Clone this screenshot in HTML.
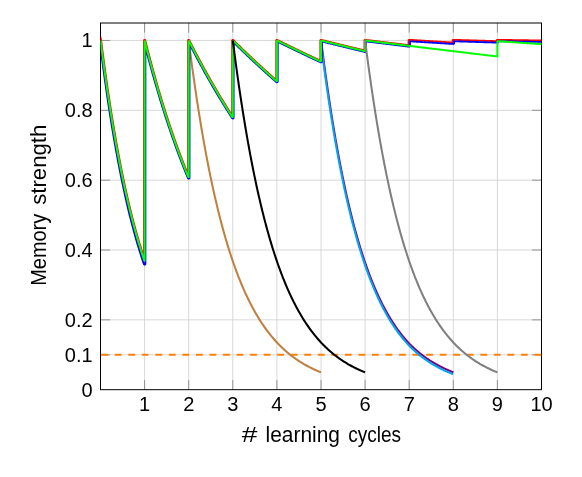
<!DOCTYPE html>
<html><head><meta charset="utf-8"><title>Memory strength</title>
<style>
html,body{margin:0;padding:0;background:#fff;}
body{width:582px;height:477px;overflow:hidden;font-family:"Liberation Sans",sans-serif;}
svg{display:block;will-change:transform;}
text{font-family:"Liberation Sans",sans-serif;fill:#000;}
</style></head><body>
<svg width="582" height="477" viewBox="0 0 582 477">
<defs><clipPath id="pc"><rect x="100.5" y="22.5" width="441.5" height="367.5"/></clipPath></defs>
<rect x="0" y="0" width="582" height="477" fill="#ffffff"/>
<g stroke="#d4d4d4" stroke-width="0.9" fill="none">
<line x1="144.60" y1="23.0" x2="144.60" y2="389.7"/>
<line x1="188.70" y1="23.0" x2="188.70" y2="389.7"/>
<line x1="232.80" y1="23.0" x2="232.80" y2="389.7"/>
<line x1="276.90" y1="23.0" x2="276.90" y2="389.7"/>
<line x1="321.00" y1="23.0" x2="321.00" y2="389.7"/>
<line x1="365.10" y1="23.0" x2="365.10" y2="389.7"/>
<line x1="409.20" y1="23.0" x2="409.20" y2="389.7"/>
<line x1="453.30" y1="23.0" x2="453.30" y2="389.7"/>
<line x1="497.40" y1="23.0" x2="497.40" y2="389.7"/>
<line x1="100.5" y1="354.78" x2="541.5" y2="354.78"/>
<line x1="100.5" y1="319.85" x2="541.5" y2="319.85"/>
<line x1="100.5" y1="250.00" x2="541.5" y2="250.00"/>
<line x1="100.5" y1="180.16" x2="541.5" y2="180.16"/>
<line x1="100.5" y1="110.31" x2="541.5" y2="110.31"/>
<line x1="100.5" y1="40.46" x2="541.5" y2="40.46"/>
</g>
<g stroke="#5c5c5c" stroke-width="0.6" fill="none">
<line x1="144.60" y1="23.0" x2="144.60" y2="32.6"/>
<line x1="144.60" y1="389.7" x2="144.60" y2="380.09999999999997"/>
<line x1="188.70" y1="23.0" x2="188.70" y2="32.6"/>
<line x1="188.70" y1="389.7" x2="188.70" y2="380.09999999999997"/>
<line x1="232.80" y1="23.0" x2="232.80" y2="32.6"/>
<line x1="232.80" y1="389.7" x2="232.80" y2="380.09999999999997"/>
<line x1="276.90" y1="23.0" x2="276.90" y2="32.6"/>
<line x1="276.90" y1="389.7" x2="276.90" y2="380.09999999999997"/>
<line x1="321.00" y1="23.0" x2="321.00" y2="32.6"/>
<line x1="321.00" y1="389.7" x2="321.00" y2="380.09999999999997"/>
<line x1="365.10" y1="23.0" x2="365.10" y2="32.6"/>
<line x1="365.10" y1="389.7" x2="365.10" y2="380.09999999999997"/>
<line x1="409.20" y1="23.0" x2="409.20" y2="32.6"/>
<line x1="409.20" y1="389.7" x2="409.20" y2="380.09999999999997"/>
<line x1="453.30" y1="23.0" x2="453.30" y2="32.6"/>
<line x1="453.30" y1="389.7" x2="453.30" y2="380.09999999999997"/>
<line x1="497.40" y1="23.0" x2="497.40" y2="32.6"/>
<line x1="497.40" y1="389.7" x2="497.40" y2="380.09999999999997"/>
<line x1="100.5" y1="354.78" x2="110.1" y2="354.78"/>
<line x1="541.5" y1="354.78" x2="531.9" y2="354.78"/>
<line x1="100.5" y1="319.85" x2="110.1" y2="319.85"/>
<line x1="541.5" y1="319.85" x2="531.9" y2="319.85"/>
<line x1="100.5" y1="250.00" x2="110.1" y2="250.00"/>
<line x1="541.5" y1="250.00" x2="531.9" y2="250.00"/>
<line x1="100.5" y1="180.16" x2="110.1" y2="180.16"/>
<line x1="541.5" y1="180.16" x2="531.9" y2="180.16"/>
<line x1="100.5" y1="110.31" x2="110.1" y2="110.31"/>
<line x1="541.5" y1="110.31" x2="531.9" y2="110.31"/>
<line x1="100.5" y1="40.46" x2="110.1" y2="40.46"/>
<line x1="541.5" y1="40.46" x2="531.9" y2="40.46"/>
</g>
<g stroke="#000" stroke-width="1" fill="none">
<line x1="100.5" y1="23.0" x2="100.5" y2="389.7"/>
<line x1="541.5" y1="23.0" x2="541.5" y2="389.7"/>
<line x1="100.0" y1="23.0" x2="542.0" y2="23.0"/>
<line x1="100.0" y1="389.7" x2="542.0" y2="389.7"/>
</g>
<line x1="100.5" y1="354.78" x2="541.5" y2="354.78" stroke="#ff8000" stroke-width="2.1" stroke-dasharray="6.77 6.77" stroke-dashoffset="-0.7"/>
<g fill="none" stroke-width="2.05" stroke-linejoin="round" stroke-linecap="butt" clip-path="url(#pc)">
<path d="M188.70,40.46 L189.58,47.38 L190.46,54.15 L191.35,60.80 L192.23,67.31 L193.11,73.69 L193.99,79.95 L194.87,86.09 L195.76,92.10 L196.64,97.99 L197.52,103.77 L198.40,109.43 L199.28,114.98 L200.17,120.42 L201.05,125.75 L201.93,130.98 L202.81,136.10 L203.69,141.12 L204.58,146.04 L205.46,150.87 L206.34,155.60 L207.22,160.23 L208.10,164.78 L208.99,169.23 L209.87,173.60 L210.75,177.88 L211.63,182.07 L212.51,186.18 L213.40,190.21 L214.28,194.16 L215.16,198.03 L216.04,201.83 L216.92,205.55 L217.81,209.19 L218.69,212.77 L219.57,216.27 L220.45,219.71 L221.33,223.07 L222.22,226.37 L223.10,229.61 L223.98,232.78 L224.86,235.88 L225.74,238.93 L226.63,241.91 L227.51,244.84 L228.39,247.71 L229.27,250.52 L230.15,253.28 L231.04,255.98 L231.92,258.63 L232.80,261.22 L233.68,263.77 L234.56,266.26 L235.45,268.70 L236.33,271.10 L237.21,273.45 L238.09,275.75 L238.97,278.01 L239.86,280.22 L240.74,282.39 L241.62,284.51 L242.50,286.59 L243.38,288.64 L244.27,290.64 L245.15,292.60 L246.03,294.52 L246.91,296.41 L247.79,298.25 L248.68,300.06 L249.56,301.84 L250.44,303.58 L251.32,305.28 L252.20,306.96 L253.09,308.59 L253.97,310.20 L254.85,311.77 L255.73,313.32 L256.61,314.83 L257.50,316.31 L258.38,317.77 L259.26,319.19 L260.14,320.59 L261.02,321.95 L261.91,323.30 L262.79,324.61 L263.67,325.90 L264.55,327.16 L265.43,328.40 L266.32,329.62 L267.20,330.80 L268.08,331.97 L268.96,333.11 L269.84,334.23 L270.73,335.33 L271.61,336.41 L272.49,337.46 L273.37,338.50 L274.25,339.51 L275.14,340.51 L276.02,341.48 L276.90,342.44 L277.78,343.37 L278.66,344.29 L279.55,345.19 L280.43,346.07 L281.31,346.93 L282.19,347.78 L283.07,348.61 L283.96,349.42 L284.84,350.22 L285.72,351.00 L286.60,351.77 L287.48,352.52 L288.37,353.26 L289.25,353.98 L290.13,354.69 L291.01,355.38 L291.89,356.06 L292.78,356.72 L293.66,357.38 L294.54,358.02 L295.42,358.65 L296.30,359.26 L297.19,359.86 L298.07,360.45 L298.95,361.03 L299.83,361.60 L300.71,362.16 L301.60,362.70 L302.48,363.24 L303.36,363.76 L304.24,364.27 L305.12,364.78 L306.01,365.27 L306.89,365.76 L307.77,366.23 L308.65,366.69 L309.53,367.15 L310.42,367.60 L311.30,368.03 L312.18,368.46 L313.06,368.88 L313.94,369.30 L314.83,369.70 L315.71,370.10 L316.59,370.48 L317.47,370.86 L318.35,371.24 L319.24,371.60 L320.12,371.96 L321.00,372.31" stroke="#bf8040"/>
<path d="M321.10,40.46 L321.98,47.46 L322.86,54.33 L323.75,61.05 L324.63,67.64 L325.51,74.10 L326.39,80.43 L327.27,86.63 L328.16,92.71 L329.04,98.66 L329.92,104.50 L330.80,110.22 L331.68,115.82 L332.57,121.31 L333.45,126.69 L334.33,131.97 L335.21,137.14 L336.09,142.20 L336.98,147.16 L337.86,152.03 L338.74,156.79 L339.62,161.46 L340.50,166.04 L341.39,170.52 L342.27,174.92 L343.15,179.23 L344.03,183.45 L344.91,187.58 L345.80,191.64 L346.68,195.61 L347.56,199.50 L348.44,203.31 L349.32,207.05 L350.21,210.71 L351.09,214.30 L351.97,217.82 L352.85,221.27 L353.73,224.64 L354.62,227.95 L355.50,231.20 L356.38,234.38 L357.26,237.49 L358.14,240.54 L359.03,243.53 L359.91,246.46 L360.79,249.34 L361.67,252.15 L362.55,254.91 L363.44,257.61 L364.32,260.26 L365.20,262.86 L366.08,265.40 L366.96,267.89 L367.85,270.33 L368.73,272.73 L369.61,275.07 L370.49,277.37 L371.37,279.62 L372.26,281.83 L373.14,283.99 L374.02,286.11 L374.90,288.19 L375.78,290.23 L376.67,292.22 L377.55,294.18 L378.43,296.09 L379.31,297.97 L380.19,299.81 L381.08,301.61 L381.96,303.38 L382.84,305.11 L383.72,306.80 L384.60,308.47 L385.49,310.10 L386.37,311.69 L387.25,313.26 L388.13,314.79 L389.01,316.29 L389.90,317.76 L390.78,319.21 L391.66,320.62 L392.54,322.00 L393.42,323.36 L394.31,324.69 L395.19,326.00 L396.07,327.27 L396.95,328.52 L397.83,329.75 L398.72,330.95 L399.60,332.13 L400.48,333.29 L401.36,334.42 L402.24,335.53 L403.13,336.61 L404.01,337.68 L404.89,338.72 L405.77,339.74 L406.65,340.74 L407.54,341.73 L408.42,342.69 L409.30,343.63 L410.18,344.52 L411.06,345.39 L411.95,346.25 L412.83,347.08 L413.71,347.91 L414.59,348.71 L415.47,349.50 L416.36,350.28 L417.24,351.04 L418.12,351.78 L419.00,352.52 L419.88,353.23 L420.77,353.94 L421.65,354.63 L422.53,355.30 L423.41,355.97 L424.29,356.62 L425.18,357.26 L426.06,357.88 L426.94,358.50 L427.82,359.10 L428.70,359.69 L429.59,360.27 L430.47,360.83 L431.35,361.39 L432.23,361.94 L433.11,362.47 L434.00,363.00 L434.88,363.51 L435.76,364.02 L436.64,364.51 L437.52,365.00 L438.41,365.48 L439.29,365.94 L440.17,366.40 L441.05,366.85 L441.93,367.29 L442.82,367.72 L443.70,368.15 L444.58,368.56 L445.46,368.97 L446.34,369.37 L447.23,369.76 L448.11,370.15 L448.99,370.53 L449.87,370.90 L450.75,371.26 L451.64,371.61 L452.52,371.96 L453.40,372.31" stroke="#800080"/>
<path d="M320.80,42.36 L321.68,49.36 L322.56,56.23 L323.45,62.95 L324.33,69.54 L325.21,76.00 L326.09,82.33 L326.97,88.53 L327.86,94.61 L328.74,100.56 L329.62,106.40 L330.50,112.12 L331.38,117.72 L332.27,123.21 L333.15,128.59 L334.03,133.87 L334.91,139.04 L335.79,144.10 L336.68,149.06 L337.56,153.93 L338.44,158.69 L339.32,163.36 L340.20,167.94 L341.09,172.42 L341.97,176.82 L342.85,181.13 L343.73,185.35 L344.61,189.48 L345.50,193.54 L346.38,197.51 L347.26,201.40 L348.14,205.21 L349.02,208.95 L349.91,212.61 L350.79,216.20 L351.67,219.72 L352.55,223.17 L353.43,226.54 L354.32,229.85 L355.20,233.10 L356.08,236.28 L356.96,239.39 L357.84,242.44 L358.73,245.43 L359.61,248.36 L360.49,251.24 L361.37,254.05 L362.25,256.81 L363.14,259.51 L364.02,262.16 L364.90,264.76 L365.78,267.30 L366.66,269.79 L367.55,272.23 L368.43,274.63 L369.31,276.97 L370.19,279.27 L371.07,281.52 L371.96,283.73 L372.84,285.89 L373.72,288.01 L374.60,290.09 L375.48,292.13 L376.37,294.12 L377.25,296.08 L378.13,297.99 L379.01,299.87 L379.89,301.71 L380.78,303.51 L381.66,305.28 L382.54,307.01 L383.42,308.70 L384.30,310.37 L385.19,312.00 L386.07,313.59 L386.95,315.16 L387.83,316.69 L388.71,318.19 L389.60,319.66 L390.48,321.11 L391.36,322.52 L392.24,323.90 L393.12,325.26 L394.01,326.59 L394.89,327.90 L395.77,329.17 L396.65,330.42 L397.53,331.65 L398.42,332.85 L399.30,334.03 L400.18,335.19 L401.06,336.32 L401.94,337.43 L402.83,338.51 L403.71,339.58 L404.59,340.62 L405.47,341.64 L406.35,342.64 L407.24,343.63 L408.12,344.59 L409.00,345.53 L409.88,346.42 L410.76,347.29 L411.65,348.15 L412.53,348.98 L413.41,349.81 L414.29,350.61 L415.17,351.40 L416.06,352.18 L416.94,352.94 L417.82,353.68 L418.70,354.42 L419.58,355.13 L420.47,355.84 L421.35,356.53 L422.23,357.20 L423.11,357.87 L423.99,358.52 L424.88,359.16 L425.76,359.78 L426.64,360.40 L427.52,361.00 L428.40,361.59 L429.29,362.17 L430.17,362.73 L431.05,363.29 L431.93,363.84 L432.81,364.37 L433.70,364.90 L434.58,365.41 L435.46,365.92 L436.34,366.41 L437.22,366.90 L438.11,367.38 L438.99,367.84 L439.87,368.30 L440.75,368.75 L441.63,369.19 L442.52,369.62 L443.40,370.05 L444.28,370.46 L445.16,370.87 L446.04,371.27 L446.93,371.66 L447.81,372.05 L448.69,372.43 L449.57,372.80 L450.45,373.16 L451.34,373.51 L452.22,373.86 L453.10,374.21" stroke="#00a8f0"/>
<path d="M100.46,36.98 L101.14,40.38 L101.88,46.15 L102.61,51.83 L103.35,57.41 L104.08,62.90 L104.82,68.30 L105.55,73.60 L106.29,78.83 L107.02,83.96 L107.76,89.01 L108.49,93.98 L109.23,98.86 L109.96,103.67 L110.70,108.39 L111.43,113.04 L112.17,117.61 L112.90,122.10 L113.64,126.52 L114.37,130.87 L115.11,135.14 L115.84,139.35 L116.57,143.48 L117.31,147.55 L118.04,151.54 L118.78,155.48 L119.51,159.34 L120.25,163.15 L120.98,166.89 L121.72,170.57 L122.45,174.18 L123.19,177.74 L123.92,181.24 L124.66,184.68 L125.39,188.07 L126.12,191.40 L126.86,194.67 L127.59,197.89 L128.33,201.05 L129.06,204.17 L129.80,207.23 L130.53,210.24 L131.27,213.20 L132.00,216.11 L132.73,218.98 L133.47,221.79 L134.20,224.56 L134.94,227.29 L135.67,229.97 L136.41,232.60 L137.14,235.19 L137.87,237.74 L138.61,240.25 L139.34,242.71 L140.08,245.13 L140.81,247.52 L141.54,249.86 L142.28,252.17 L143.01,254.43 L143.75,256.66 L143.95,257.27 L143.95,40.46 L143.96,40.34 L144.00,40.22 L144.06,40.10 L144.13,40.01 L144.23,39.93 L144.34,39.86 L144.46,39.83 L144.58,39.81 L144.71,39.82 L144.83,39.85 L144.94,39.91 L145.04,39.98 L145.12,40.07 L145.19,40.18 L145.23,40.30 L145.96,43.20 L146.70,46.07 L147.43,48.92 L148.17,51.75 L148.90,54.55 L149.64,57.33 L150.37,60.08 L151.11,62.81 L151.84,65.52 L152.58,68.21 L153.31,70.88 L154.05,73.52 L154.78,76.14 L155.52,78.74 L156.25,81.32 L156.98,83.87 L157.72,86.41 L158.45,88.92 L159.19,91.42 L159.92,93.89 L160.66,96.34 L161.39,98.77 L162.13,101.18 L162.86,103.57 L163.60,105.95 L164.33,108.30 L165.06,110.63 L165.80,112.94 L166.53,115.24 L167.27,117.51 L168.00,119.77 L168.74,122.00 L169.47,124.22 L170.21,126.42 L170.94,128.60 L171.68,130.77 L172.41,132.91 L173.14,135.04 L173.88,137.15 L174.61,139.24 L175.35,141.32 L176.08,143.38 L176.82,145.42 L177.55,147.44 L178.29,149.45 L179.02,151.44 L179.75,153.41 L180.49,155.37 L181.22,157.31 L181.96,159.23 L182.69,161.14 L183.43,163.04 L184.16,164.91 L184.89,166.78 L185.63,168.62 L186.36,170.45 L187.10,172.27 L187.83,174.07 L188.05,174.60 L188.05,40.46 L188.06,40.34 L188.10,40.22 L188.15,40.11 L188.23,40.01 L188.32,39.93 L188.43,39.87 L188.55,39.83 L188.67,39.81 L188.80,39.82 L188.92,39.85 L189.03,39.90 L189.13,39.97 L189.21,40.06 L189.28,40.17 L190.01,41.62 L190.75,43.06 L191.48,44.50 L192.22,45.94 L192.95,47.36 L193.69,48.78 L194.42,50.20 L195.16,51.61 L195.89,53.01 L196.63,54.41 L197.36,55.80 L198.09,57.19 L198.83,58.57 L199.56,59.94 L200.30,61.31 L201.03,62.67 L201.77,64.03 L202.50,65.38 L203.24,66.73 L203.97,68.07 L204.70,69.41 L205.44,70.74 L206.17,72.06 L206.91,73.38 L207.64,74.69 L208.38,76.00 L209.11,77.30 L209.85,78.60 L210.58,79.89 L211.31,81.17 L212.05,82.45 L212.78,83.73 L213.52,85.00 L214.25,86.26 L214.99,87.52 L215.72,88.78 L216.45,90.03 L217.19,91.27 L217.92,92.51 L218.66,93.74 L219.39,94.97 L220.13,96.19 L220.86,97.41 L221.60,98.62 L222.33,99.83 L223.06,101.03 L223.80,102.23 L224.53,103.43 L225.27,104.61 L226.00,105.80 L226.74,106.97 L227.47,108.15 L228.20,109.32 L228.94,110.48 L229.67,111.64 L230.41,112.79 L231.14,113.94 L231.88,115.08 L232.15,115.51 L232.15,40.46 L232.16,40.33 L232.20,40.21 L232.26,40.10 L232.34,40.00 L232.44,39.92 L232.55,39.86 L232.67,39.82 L232.80,39.81 L232.92,39.82 L233.05,39.86 L233.16,39.92 L233.26,40.00 L233.99,40.72 L234.73,41.45 L235.46,42.17 L236.20,42.89 L236.93,43.61 L237.66,44.33 L238.40,45.05 L239.13,45.77 L239.87,46.48 L240.60,47.19 L241.34,47.91 L242.07,48.62 L242.81,49.32 L243.54,50.03 L244.28,50.74 L245.01,51.44 L245.74,52.14 L246.48,52.84 L247.21,53.54 L247.95,54.24 L248.68,54.94 L249.42,55.63 L250.15,56.33 L250.89,57.02 L251.62,57.71 L252.35,58.40 L253.09,59.09 L253.82,59.77 L254.56,60.46 L255.29,61.14 L256.03,61.83 L256.76,62.51 L257.50,63.19 L258.23,63.86 L258.97,64.54 L259.70,65.22 L260.43,65.89 L261.17,66.56 L261.90,67.23 L262.64,67.90 L263.37,68.57 L264.11,69.24 L264.84,69.90 L265.58,70.57 L266.31,71.23 L267.04,71.89 L267.78,72.55 L268.51,73.21 L269.25,73.87 L269.98,74.52 L270.72,75.18 L271.45,75.83 L272.19,76.48 L272.92,77.13 L273.66,77.78 L274.39,78.43 L275.12,79.08 L275.86,79.72 L276.25,80.06 L276.25,40.46 L276.26,40.33 L276.30,40.20 L276.37,40.09 L276.45,39.99 L276.56,39.91 L276.68,39.85 L276.80,39.82 L276.93,39.81 L277.06,39.83 L277.19,39.88 L277.92,40.24 L278.66,40.60 L279.39,40.97 L280.13,41.33 L280.86,41.69 L281.60,42.05 L282.33,42.41 L283.07,42.77 L283.80,43.14 L284.54,43.50 L285.27,43.86 L286.01,44.21 L286.74,44.57 L287.47,44.93 L288.21,45.29 L288.94,45.65 L289.68,46.01 L290.41,46.36 L291.15,46.72 L291.88,47.08 L292.62,47.43 L293.35,47.79 L294.09,48.14 L294.82,48.50 L295.56,48.85 L296.29,49.21 L297.03,49.56 L297.76,49.91 L298.50,50.27 L299.23,50.62 L299.97,50.97 L300.70,51.32 L301.44,51.67 L302.17,52.03 L302.90,52.38 L303.64,52.73 L304.37,53.08 L305.11,53.43 L305.84,53.78 L306.58,54.13 L307.31,54.47 L308.05,54.82 L308.78,55.17 L309.52,55.52 L310.25,55.87 L310.99,56.21 L311.72,56.56 L312.46,56.90 L313.19,57.25 L313.93,57.60 L314.66,57.94 L315.40,58.29 L316.13,58.63 L316.87,58.97 L317.60,59.32 L318.33,59.66 L319.07,60.00 L319.80,60.35 L320.35,60.60 L320.35,40.46 L320.36,40.33 L320.40,40.21 L320.47,40.09 L320.55,39.99 L320.65,39.91 L320.77,39.85 L320.90,39.82 L321.03,39.81 L321.16,39.83 L321.89,40.01 L322.63,40.19 L323.36,40.37 L324.10,40.56 L324.83,40.74 L325.57,40.92 L326.30,41.10 L327.04,41.28 L327.77,41.46 L328.51,41.64 L329.24,41.82 L329.98,42.00 L330.71,42.19 L331.45,42.37 L332.18,42.55 L332.91,42.73 L333.65,42.91 L334.38,43.09 L335.12,43.27 L335.85,43.45 L336.59,43.63 L337.32,43.81 L338.06,43.99 L338.79,44.17 L339.53,44.35 L340.26,44.53 L341.00,44.71 L341.73,44.88 L342.47,45.06 L343.20,45.24 L343.94,45.42 L344.67,45.60 L345.41,45.78 L346.14,45.96 L346.88,46.14 L347.61,46.32 L348.35,46.49 L349.08,46.67 L349.82,46.85 L350.55,47.03 L351.29,47.21 L352.02,47.38 L352.76,47.56 L353.49,47.74 L354.23,47.92 L354.96,48.10 L355.70,48.27 L356.43,48.45 L357.17,48.63 L357.90,48.81 L358.64,48.98 L359.37,49.16 L360.11,49.34 L360.84,49.51 L361.58,49.69 L362.31,49.87 L363.05,50.04 L363.78,50.22 L364.45,50.38 L364.45,40.46 L364.46,40.34 L364.50,40.22 L364.55,40.11 L364.63,40.02 L364.72,39.93 L364.82,39.87 L364.94,39.83 L365.06,39.81 L365.18,39.81 L365.91,39.91 L366.65,40.00 L367.38,40.09 L368.12,40.18 L368.85,40.27 L369.59,40.36 L370.32,40.45 L371.06,40.54 L371.79,40.63 L372.53,40.72 L373.26,40.81 L374.00,40.90 L374.73,41.00 L375.47,41.09 L376.20,41.18 L376.94,41.27 L377.67,41.36 L378.41,41.45 L379.14,41.54 L379.88,41.63 L380.61,41.72 L381.35,41.81 L382.08,41.90 L382.82,41.99 L383.55,42.08 L384.29,42.17 L385.02,42.26 L385.76,42.35 L386.49,42.44 L387.23,42.53 L387.96,42.62 L388.70,42.71 L389.43,42.80 L390.17,42.89 L390.90,42.98 L391.64,43.07 L392.37,43.16 L393.11,43.25 L393.84,43.34 L394.58,43.43 L395.31,43.52 L396.05,43.61 L396.78,43.70 L397.52,43.79 L398.25,43.88 L398.99,43.97 L399.72,44.06 L400.46,44.15 L401.19,44.24 L401.93,44.33 L402.66,44.42 L403.40,44.51 L404.13,44.60 L404.87,44.69 L405.60,44.78 L406.34,44.87 L407.07,44.96 L407.81,45.05 L408.54,45.14 L408.55,45.14 L408.55,40.46 L408.56,40.33 L408.60,40.20 L408.67,40.09 L408.75,39.99 L408.86,39.91 L408.98,39.85 L409.11,39.82 L409.24,39.81 L409.98,39.86 L410.71,39.90 L411.45,39.95 L412.18,39.99 L412.92,40.04 L413.65,40.08 L414.39,40.13 L415.12,40.17 L415.86,40.22 L416.59,40.27 L417.33,40.31 L418.06,40.36 L418.80,40.40 L419.53,40.45 L420.27,40.49 L421.00,40.54 L421.74,40.58 L422.47,40.63 L423.21,40.67 L423.94,40.72 L424.68,40.76 L425.41,40.81 L426.15,40.86 L426.88,40.90 L427.62,40.95 L428.35,40.99 L429.08,41.04 L429.82,41.08 L430.55,41.13 L431.29,41.17 L432.02,41.22 L432.76,41.26 L433.49,41.31 L434.23,41.35 L434.96,41.40 L435.70,41.44 L436.43,41.49 L437.17,41.53 L437.90,41.58 L438.64,41.63 L439.37,41.67 L440.11,41.72 L440.84,41.76 L441.58,41.81 L442.31,41.85 L443.05,41.90 L443.78,41.94 L444.52,41.99 L445.25,42.03 L445.99,42.08 L446.72,42.12 L447.46,42.17 L448.19,42.21 L448.93,42.26 L449.66,42.30 L450.40,42.35 L451.13,42.39 L451.87,42.44 L452.60,42.48 L452.65,42.49 L452.65,40.46 L452.66,40.33 L452.70,40.21 L452.76,40.09 L452.85,39.99 L452.95,39.91 L453.07,39.85 L453.19,39.82 L453.32,39.81 L454.06,39.83 L454.79,39.86 L455.53,39.88 L456.26,39.90 L457.00,39.92 L457.73,39.95 L458.47,39.97 L459.20,39.99 L459.94,40.01 L460.67,40.04 L461.41,40.06 L462.14,40.08 L462.88,40.11 L463.61,40.13 L464.35,40.15 L465.08,40.17 L465.82,40.20 L466.55,40.22 L467.29,40.24 L468.02,40.26 L468.76,40.29 L469.49,40.31 L470.23,40.33 L470.96,40.36 L471.70,40.38 L472.43,40.40 L473.17,40.42 L473.90,40.45 L474.64,40.47 L475.37,40.49 L476.11,40.51 L476.84,40.54 L477.58,40.56 L478.31,40.58 L479.05,40.61 L479.78,40.63 L480.52,40.65 L481.25,40.67 L481.99,40.70 L482.72,40.72 L483.46,40.74 L484.19,40.76 L484.93,40.79 L485.66,40.81 L486.40,40.83 L487.13,40.85 L487.87,40.88 L488.60,40.90 L489.34,40.92 L490.07,40.95 L490.81,40.97 L491.54,40.99 L492.28,41.01 L493.01,41.04 L493.75,41.06 L494.48,41.08 L495.22,41.10 L495.95,41.13 L496.69,41.15 L496.75,41.15 L496.75,40.46 L496.76,40.33 L496.80,40.21 L496.86,40.10 L496.94,40.00 L497.04,39.92 L497.16,39.86 L497.28,39.82 L497.41,39.81 L498.15,39.82 L498.88,39.83 L499.62,39.84 L500.35,39.86 L501.09,39.87 L501.82,39.88 L502.56,39.89 L503.29,39.90 L504.03,39.91 L504.76,39.92 L505.50,39.94 L506.23,39.95 L506.97,39.96 L507.70,39.97 L508.44,39.98 L509.17,39.99 L509.91,40.00 L510.64,40.01 L511.38,40.03 L512.11,40.04 L512.85,40.05 L513.58,40.06 L514.32,40.07 L515.05,40.08 L515.79,40.09 L516.52,40.11 L517.26,40.12 L517.99,40.13 L518.73,40.14 L519.46,40.15 L520.20,40.16 L520.93,40.17 L521.67,40.19 L522.40,40.20 L523.14,40.21 L523.87,40.22 L524.61,40.23 L525.34,40.24 L526.08,40.25 L526.81,40.26 L527.55,40.28 L528.28,40.29 L529.02,40.30 L529.75,40.31 L530.49,40.32 L531.22,40.33 L531.96,40.34 L532.69,40.36 L533.43,40.37 L534.16,40.38 L534.90,40.39 L535.63,40.40 L536.37,40.41 L537.10,40.42 L537.84,40.43 L538.57,40.45 L539.31,40.46 L540.04,40.47 L540.78,40.48 L541.51,40.49" stroke="#ff0000" stroke-width="1.85"/>
<path d="M99.71,40.56 L100.44,46.45 L100.44,46.45 L101.18,52.24 L101.18,52.24 L101.91,57.93 L101.91,57.93 L102.65,63.52 L102.65,63.52 L103.38,69.02 L103.38,69.03 L104.12,74.43 L104.12,74.44 L104.85,79.75 L104.85,79.75 L105.59,84.98 L105.59,84.98 L106.32,90.12 L106.32,90.12 L107.06,95.17 L107.06,95.18 L107.79,100.14 L107.79,100.14 L108.53,105.03 L108.53,105.03 L109.26,109.83 L109.26,109.83 L110.00,114.55 L110.00,114.55 L110.73,119.19 L110.74,119.20 L111.47,123.76 L111.47,123.76 L112.21,128.24 L112.21,128.25 L112.94,132.66 L112.94,132.66 L113.68,136.99 L113.68,137.00 L114.41,141.26 L114.41,141.26 L115.15,145.45 L115.15,145.45 L115.88,149.57 L115.88,149.57 L116.62,153.62 L116.62,153.63 L117.35,157.61 L117.35,157.61 L118.09,161.53 L118.09,161.53 L118.82,165.38 L118.82,165.38 L119.56,169.16 L119.56,169.16 L120.30,172.89 L120.30,172.89 L121.03,176.54 L121.03,176.55 L121.77,180.14 L121.77,180.15 L122.50,183.68 L122.50,183.68 L123.24,187.16 L123.24,187.16 L123.97,190.58 L123.97,190.58 L124.71,193.94 L124.71,193.94 L125.44,197.25 L125.44,197.25 L126.18,200.50 L126.18,200.50 L126.92,203.69 L126.92,203.69 L127.65,206.83 L127.65,206.84 L128.39,209.92 L128.39,209.92 L129.12,212.96 L129.12,212.96 L129.86,215.94 L129.86,215.95 L130.59,218.88 L130.59,218.88 L131.33,221.76 L131.33,221.77 L132.07,224.60 L132.07,224.60 L132.80,227.39 L132.80,227.39 L133.54,230.13 L133.54,230.14 L134.27,232.83 L134.27,232.83 L135.01,235.48 L135.01,235.48 L135.75,238.09 L135.75,238.09 L136.48,240.65 L136.48,240.65 L137.22,243.17 L137.22,243.17 L137.95,245.65 L137.95,245.65 L138.69,248.08 L138.69,248.09 L139.43,250.48 L139.43,250.48 L140.16,252.83 L140.16,252.84 L140.90,255.15 L140.90,255.15 L141.63,257.42 L141.64,257.43 L142.37,259.66 L142.37,259.66 L143.11,261.86 L143.11,261.86 L143.84,264.02 L143.91,264.17 L144.00,264.30 L144.12,264.41 L144.26,264.49 L144.41,264.54 L144.57,264.57 L144.73,264.56 L144.89,264.51 L145.03,264.44 L145.16,264.34 L145.26,264.22 L145.34,264.08 L145.38,263.93 L145.40,263.77 L145.40,46.84 L146.03,49.28 L146.03,49.28 L146.77,52.11 L146.77,52.11 L147.50,54.92 L147.50,54.92 L148.24,57.70 L148.24,57.70 L148.97,60.46 L148.97,60.46 L149.71,63.19 L149.71,63.19 L150.44,65.90 L150.44,65.91 L151.18,68.59 L151.18,68.60 L151.91,71.26 L151.91,71.26 L152.65,73.91 L152.65,73.91 L153.38,76.53 L153.39,76.53 L154.12,79.14 L154.12,79.14 L154.86,81.72 L154.86,81.72 L155.59,84.28 L155.59,84.28 L156.33,86.81 L156.33,86.82 L157.06,89.33 L157.06,89.33 L157.80,91.83 L157.80,91.83 L158.53,94.30 L158.53,94.30 L159.27,96.76 L159.27,96.76 L160.00,99.19 L160.00,99.19 L160.74,101.61 L160.74,101.61 L161.48,104.00 L161.48,104.00 L162.21,106.38 L162.21,106.38 L162.95,108.73 L162.95,108.73 L163.68,111.07 L163.68,111.07 L164.42,113.38 L164.42,113.38 L165.15,115.68 L165.15,115.68 L165.89,117.96 L165.89,117.96 L166.62,120.22 L166.62,120.22 L167.36,122.46 L167.36,122.46 L168.10,124.68 L168.10,124.68 L168.83,126.88 L168.83,126.88 L169.57,129.07 L169.57,129.07 L170.30,131.23 L170.30,131.24 L171.04,133.38 L171.04,133.38 L171.77,135.51 L171.77,135.52 L172.51,137.63 L172.51,137.63 L173.25,139.72 L173.25,139.73 L173.98,141.80 L173.98,141.80 L174.72,143.86 L174.72,143.87 L175.45,145.91 L175.45,145.91 L176.19,147.94 L176.19,147.94 L176.92,149.95 L176.92,149.95 L177.66,151.94 L177.66,151.94 L178.40,153.92 L178.40,153.92 L179.13,155.88 L179.13,155.88 L179.87,157.82 L179.87,157.83 L180.60,159.75 L180.60,159.75 L181.34,161.66 L181.34,161.67 L182.07,163.56 L182.07,163.56 L182.81,165.44 L182.81,165.44 L183.55,167.31 L183.55,167.31 L184.28,169.16 L184.28,169.16 L185.02,170.99 L185.02,171.00 L185.75,172.81 L185.75,172.81 L186.49,174.62 L186.49,174.62 L187.23,176.41 L187.23,176.41 L187.96,178.18 L188.03,178.32 L188.13,178.44 L188.26,178.54 L188.39,178.61 L188.54,178.66 L188.70,178.68 L188.86,178.66 L189.01,178.61 L189.14,178.54 L189.27,178.44 L189.37,178.32 L189.44,178.18 L189.48,178.03 L189.50,177.88 L189.50,43.81 L190.19,45.16 L190.19,45.16 L190.93,46.60 L190.93,46.60 L191.66,48.03 L191.66,48.03 L192.40,49.45 L192.40,49.45 L193.13,50.87 L193.14,50.87 L193.87,52.28 L193.87,52.28 L194.61,53.68 L194.61,53.69 L195.34,55.08 L195.34,55.09 L196.08,56.48 L196.08,56.48 L196.81,57.87 L196.81,57.87 L197.55,59.25 L197.55,59.25 L198.28,60.63 L198.29,60.63 L199.02,62.00 L199.02,62.00 L199.76,63.36 L199.76,63.36 L200.49,64.72 L200.49,64.72 L201.23,66.08 L201.23,66.08 L201.96,67.43 L201.96,67.43 L202.70,68.77 L202.70,68.77 L203.43,70.11 L203.43,70.11 L204.17,71.44 L204.17,71.44 L204.91,72.76 L204.91,72.76 L205.64,74.08 L205.64,74.09 L206.38,75.40 L206.38,75.40 L207.11,76.71 L207.11,76.71 L207.85,78.01 L207.85,78.01 L208.58,79.31 L208.58,79.31 L209.32,80.61 L209.32,80.61 L210.06,81.89 L210.06,81.89 L210.79,83.18 L210.79,83.18 L211.53,84.45 L211.53,84.45 L212.26,85.73 L212.26,85.73 L213.00,86.99 L213.00,86.99 L213.73,88.25 L213.73,88.26 L214.47,89.51 L214.47,89.51 L215.21,90.76 L215.21,90.76 L215.94,92.01 L215.94,92.01 L216.68,93.25 L216.68,93.25 L217.41,94.48 L217.41,94.49 L218.15,95.71 L218.15,95.72 L218.88,96.94 L218.88,96.94 L219.62,98.16 L219.62,98.16 L220.36,99.38 L220.36,99.38 L221.09,100.59 L221.09,100.59 L221.83,101.79 L221.83,101.79 L222.56,102.99 L222.56,102.99 L223.30,104.19 L223.30,104.19 L224.03,105.38 L224.04,105.38 L224.77,106.56 L224.77,106.56 L225.51,107.74 L225.51,107.74 L226.24,108.92 L226.24,108.92 L226.98,110.09 L226.98,110.09 L227.71,111.25 L227.71,111.25 L228.45,112.41 L228.45,112.42 L229.19,113.57 L229.19,113.57 L229.92,114.72 L229.92,114.72 L230.66,115.87 L230.66,115.87 L231.39,117.01 L231.39,117.01 L232.13,118.15 L232.23,118.27 L232.35,118.37 L232.49,118.45 L232.64,118.49 L232.79,118.51 L232.95,118.50 L233.10,118.45 L233.24,118.38 L233.36,118.28 L233.46,118.16 L233.54,118.02 L233.58,117.87 L233.60,117.71 L233.60,42.37 L233.71,42.48 L233.71,42.48 L234.44,43.21 L234.44,43.21 L235.18,43.93 L235.18,43.93 L235.91,44.65 L235.92,44.65 L236.65,45.37 L236.65,45.37 L237.39,46.09 L237.39,46.09 L238.12,46.81 L238.12,46.81 L238.86,47.52 L238.86,47.52 L239.59,48.23 L239.59,48.24 L240.33,48.95 L240.33,48.95 L241.06,49.66 L241.06,49.66 L241.80,50.37 L241.80,50.37 L242.54,51.08 L242.54,51.08 L243.27,51.78 L243.27,51.78 L244.01,52.49 L244.01,52.49 L244.74,53.19 L244.74,53.19 L245.48,53.89 L245.48,53.89 L246.21,54.59 L246.21,54.59 L246.95,55.29 L246.95,55.29 L247.68,55.99 L247.69,55.99 L248.42,56.69 L248.42,56.69 L249.16,57.38 L249.16,57.38 L249.89,58.07 L249.89,58.08 L250.63,58.77 L250.63,58.77 L251.36,59.46 L251.36,59.46 L252.10,60.15 L252.10,60.15 L252.83,60.83 L252.83,60.83 L253.57,61.52 L253.57,61.52 L254.30,62.20 L254.31,62.21 L255.04,62.89 L255.04,62.89 L255.78,63.57 L255.78,63.57 L256.51,64.25 L256.51,64.25 L257.25,64.93 L257.25,64.93 L257.98,65.61 L257.98,65.61 L258.72,66.28 L258.72,66.28 L259.45,66.96 L259.45,66.96 L260.19,67.63 L260.19,67.63 L260.93,68.30 L260.93,68.30 L261.66,68.97 L261.66,68.98 L262.40,69.64 L262.40,69.64 L263.13,70.31 L263.13,70.31 L263.87,70.98 L263.87,70.98 L264.60,71.64 L264.60,71.64 L265.34,72.31 L265.34,72.31 L266.07,72.97 L266.08,72.97 L266.81,73.63 L266.81,73.63 L267.55,74.29 L267.55,74.29 L268.28,74.95 L268.28,74.95 L269.02,75.61 L269.02,75.61 L269.75,76.26 L269.75,76.26 L270.49,76.91 L270.49,76.92 L271.22,77.57 L271.22,77.57 L271.96,78.22 L271.96,78.22 L272.70,78.87 L272.70,78.87 L273.43,79.52 L273.43,79.52 L274.17,80.17 L274.17,80.17 L274.90,80.81 L274.90,80.81 L275.64,81.46 L275.64,81.46 L276.37,82.10 L276.50,82.19 L276.64,82.25 L276.78,82.29 L276.94,82.30 L277.09,82.27 L277.23,82.23 L277.36,82.15 L277.48,82.05 L277.57,81.93 L277.64,81.79 L277.69,81.65 L277.70,81.50 L277.70,41.75 L278.02,41.90 L278.75,42.27 L279.49,42.63 L280.22,42.99 L280.96,43.35 L281.69,43.72 L282.43,44.08 L283.16,44.44 L283.90,44.80 L284.63,45.16 L285.37,45.52 L286.10,45.88 L286.84,46.24 L287.57,46.59 L288.31,46.95 L289.05,47.31 L289.78,47.67 L290.52,48.02 L291.25,48.38 L291.99,48.74 L292.72,49.09 L293.46,49.45 L294.19,49.80 L294.93,50.16 L295.66,50.51 L296.40,50.87 L297.13,51.22 L297.87,51.57 L298.60,51.93 L299.34,52.28 L300.07,52.63 L300.81,52.98 L301.55,53.33 L302.28,53.69 L303.02,54.04 L303.75,54.39 L304.49,54.74 L305.22,55.09 L305.96,55.44 L306.69,55.78 L307.43,56.13 L308.16,56.48 L308.90,56.83 L309.63,57.18 L310.37,57.52 L311.10,57.87 L311.84,58.22 L312.57,58.56 L313.31,58.91 L314.04,59.25 L314.78,59.60 L315.52,59.94 L316.25,60.29 L316.99,60.63 L317.72,60.97 L318.46,61.32 L319.19,61.66 L319.93,62.00 L320.66,62.34 L320.81,62.40 L320.97,62.42 L321.13,62.41 L321.29,62.37 L321.43,62.29 L321.56,62.19 L321.66,62.07 L321.74,61.93 L321.78,61.78 L321.80,61.62 L321.80,41.48 L322.28,41.60 L323.01,41.78 L323.75,41.96 L324.48,42.14 L325.22,42.33 L325.95,42.51 L326.69,42.69 L327.42,42.87 L328.16,43.05 L328.89,43.23 L329.63,43.41 L330.36,43.59 L331.10,43.77 L331.83,43.95 L332.57,44.14 L333.30,44.32 L334.04,44.50 L334.77,44.68 L335.51,44.86 L336.24,45.04 L336.98,45.22 L337.71,45.40 L338.45,45.58 L339.19,45.76 L339.92,45.93 L340.66,46.11 L341.39,46.29 L342.13,46.47 L342.86,46.65 L343.60,46.83 L344.33,47.01 L345.07,47.19 L345.80,47.37 L346.54,47.55 L347.27,47.72 L348.01,47.90 L348.74,48.08 L349.48,48.26 L350.21,48.44 L350.95,48.62 L351.68,48.79 L352.42,48.97 L353.15,49.15 L353.89,49.33 L354.62,49.51 L355.36,49.68 L356.09,49.86 L356.83,50.04 L357.56,50.22 L358.30,50.39 L359.03,50.57 L359.77,50.75 L360.50,50.92 L361.24,51.10 L361.97,51.28 L362.71,51.45 L363.44,51.63 L364.18,51.81 L364.91,51.98 L365.07,52.00 L365.23,51.99 L365.39,51.95 L365.53,51.88 L365.66,51.78 L365.76,51.66 L365.84,51.52 L365.88,51.36 L365.90,51.20 L365.90,41.37 L366.47,41.44 L367.21,41.53 L367.94,41.62 L368.68,41.71 L369.41,41.80 L370.15,41.89 L370.88,41.98 L371.62,42.07 L372.35,42.16 L373.09,42.25 L373.82,42.34 L374.56,42.43 L375.29,42.52 L376.03,42.62 L376.76,42.71 L377.50,42.80 L378.23,42.89 L378.97,42.98 L379.70,43.07 L380.44,43.16 L381.17,43.25 L381.91,43.34 L382.64,43.43 L383.38,43.52 L384.11,43.61 L384.85,43.70 L385.58,43.79 L386.32,43.88 L387.05,43.97 L387.79,44.06 L388.52,44.15 L389.26,44.24 L389.99,44.33 L390.73,44.42 L391.46,44.51 L392.20,44.60 L392.93,44.69 L393.67,44.78 L394.40,44.87 L395.14,44.96 L395.87,45.05 L396.61,45.14 L397.34,45.23 L398.08,45.32 L398.81,45.41 L399.55,45.50 L400.28,45.59 L401.02,45.68 L401.75,45.77 L402.49,45.86 L403.22,45.95 L403.96,46.04 L404.69,46.13 L405.43,46.22 L406.16,46.31 L406.90,46.40 L407.63,46.49 L408.37,46.58 L409.10,46.67 L409.25,46.67 L409.40,46.65 L409.54,46.60 L409.67,46.52 L409.78,46.42 L409.88,46.30 L409.94,46.17 L409.99,46.02 L410.00,45.87 L410.00,41.31 L410.62,41.35 L411.36,41.39 L412.09,41.44 L412.83,41.49 L413.56,41.53 L414.30,41.58 L415.03,41.62 L415.77,41.67 L416.50,41.71 L417.24,41.76 L417.97,41.80 L418.71,41.85 L419.44,41.89 L420.18,41.94 L420.91,41.99 L421.65,42.03 L422.38,42.08 L423.12,42.12 L423.85,42.17 L424.59,42.21 L425.32,42.26 L426.06,42.30 L426.79,42.35 L427.53,42.39 L428.26,42.44 L429.00,42.48 L429.73,42.53 L430.47,42.57 L431.20,42.62 L431.94,42.67 L432.67,42.71 L433.41,42.76 L434.14,42.80 L434.88,42.85 L435.61,42.89 L436.35,42.94 L437.08,42.98 L437.82,43.03 L438.55,43.07 L439.29,43.12 L440.02,43.16 L440.76,43.21 L441.49,43.25 L442.23,43.30 L442.96,43.34 L443.70,43.39 L444.43,43.43 L445.17,43.48 L445.90,43.52 L446.64,43.57 L447.37,43.62 L448.11,43.66 L448.84,43.71 L449.58,43.75 L450.31,43.80 L451.05,43.84 L451.78,43.89 L452.52,43.93 L453.25,43.98 L453.41,43.97 L453.57,43.93 L453.72,43.86 L453.85,43.76 L453.95,43.64 L454.03,43.50 L454.08,43.34 L454.10,43.18 L454.10,41.29 L454.75,41.31 L455.48,41.33 L456.22,41.35 L456.95,41.37 L457.69,41.40 L458.42,41.42 L459.16,41.44 L459.89,41.46 L460.63,41.49 L461.36,41.51 L462.10,41.53 L462.83,41.56 L463.57,41.58 L464.30,41.60 L465.04,41.62 L465.77,41.65 L466.51,41.67 L467.24,41.69 L467.98,41.71 L468.71,41.74 L469.45,41.76 L470.18,41.78 L470.92,41.80 L471.65,41.83 L472.39,41.85 L473.12,41.87 L473.86,41.90 L474.59,41.92 L475.33,41.94 L476.06,41.96 L476.80,41.99 L477.53,42.01 L478.27,42.03 L479.00,42.05 L479.74,42.08 L480.47,42.10 L481.21,42.12 L481.94,42.15 L482.68,42.17 L483.41,42.19 L484.15,42.21 L484.88,42.24 L485.62,42.26 L486.35,42.28 L487.09,42.30 L487.82,42.33 L488.56,42.35 L489.29,42.37 L490.03,42.39 L490.76,42.42 L491.50,42.44 L492.23,42.46 L492.97,42.49 L493.70,42.51 L494.44,42.53 L495.17,42.55 L495.91,42.58 L496.64,42.60 L497.38,42.62 L497.53,42.61 L497.69,42.57 L497.83,42.50 L497.96,42.40 L498.06,42.27 L498.14,42.13 L498.18,41.98 L498.20,41.82 L498.20,41.27 L498.86,41.28 L499.59,41.29 L500.33,41.31 L501.06,41.32 L501.80,41.33 L502.53,41.34 L503.27,41.35 L504.00,41.36 L504.74,41.37 L505.47,41.38 L506.21,41.40 L506.94,41.41 L507.68,41.42 L508.41,41.43 L509.15,41.44 L509.88,41.45 L510.62,41.46 L511.35,41.48 L512.09,41.49 L512.82,41.50 L513.56,41.51 L514.29,41.52 L515.03,41.53 L515.76,41.54 L516.50,41.56 L517.23,41.57 L517.97,41.58 L518.70,41.59 L519.44,41.60 L520.17,41.61 L520.91,41.62 L521.64,41.63 L522.38,41.65 L523.11,41.66 L523.85,41.67 L524.58,41.68 L525.32,41.69 L526.05,41.70 L526.79,41.71 L527.52,41.73 L528.26,41.74 L528.99,41.75 L529.73,41.76 L530.46,41.77 L531.20,41.78 L531.93,41.79 L532.67,41.81 L533.40,41.82 L534.14,41.83 L534.87,41.84 L535.61,41.85 L536.34,41.86 L537.08,41.87 L537.81,41.88 L538.55,41.90 L539.28,41.91 L540.02,41.92 L540.75,41.93 L541.49,41.94" stroke="#0000ff" stroke-width="1.85"/>
<path d="M100.50,40.46 L101.23,46.23 L101.97,51.91 L102.70,57.49 L103.44,62.98 L104.17,68.38 L104.91,73.69 L105.64,78.92 L106.38,84.05 L107.11,89.11 L107.85,94.07 L108.58,98.96 L109.32,103.77 L110.06,108.49 L110.79,113.14 L111.53,117.71 L112.26,122.21 L113.00,126.63 L113.73,130.98 L114.47,135.25 L115.20,139.46 L115.94,143.59 L116.67,147.66 L117.41,151.66 L118.14,155.60 L118.88,159.47 L119.61,163.27 L120.34,167.01 L121.08,170.70 L121.81,174.32 L122.55,177.88 L123.28,181.38 L124.02,184.82 L124.75,188.21 L125.49,191.54 L126.22,194.81 L126.96,198.03 L127.70,201.20 L128.43,204.32 L129.16,207.38 L129.90,210.39 L130.63,213.36 L131.37,216.27 L132.10,219.14 L132.84,221.96 L133.57,224.73 L134.31,227.46 L135.05,230.14 L135.78,232.78 L136.51,235.37 L137.25,237.92 L137.99,240.43 L138.72,242.90 L139.45,245.32 L140.19,247.71 L140.93,250.06 L141.66,252.36 L142.39,254.63 L143.13,256.87 L143.87,259.06 L144.60,261.22 L144.60,40.46 L145.34,43.36 L146.07,46.23 L146.81,49.08 L147.54,51.91 L148.28,54.71 L149.01,57.49 L149.75,60.25 L150.48,62.98 L151.22,65.69 L151.95,68.38 L152.69,71.05 L153.42,73.69 L154.16,76.32 L154.89,78.92 L155.62,81.50 L156.36,84.05 L157.09,86.59 L157.83,89.11 L158.56,91.60 L159.30,94.07 L160.03,96.53 L160.77,98.96 L161.50,101.37 L162.24,103.77 L162.98,106.14 L163.71,108.49 L164.44,110.83 L165.18,113.14 L165.92,115.44 L166.65,117.71 L167.38,119.97 L168.12,122.21 L168.86,124.43 L169.59,126.63 L170.32,128.81 L171.06,130.98 L171.80,133.12 L172.53,135.25 L173.26,137.36 L174.00,139.46 L174.74,141.54 L175.47,143.59 L176.21,145.64 L176.94,147.66 L177.68,149.67 L178.41,151.66 L179.14,153.64 L179.88,155.60 L180.62,157.54 L181.35,159.47 L182.09,161.38 L182.82,163.27 L183.56,165.15 L184.29,167.01 L185.02,168.86 L185.76,170.70 L186.50,172.51 L187.23,174.32 L187.97,176.10 L188.70,177.88 L188.70,40.46 L189.44,41.91 L190.17,43.36 L190.91,44.80 L191.64,46.23 L192.38,47.66 L193.11,49.08 L193.84,50.50 L194.58,51.91 L195.31,53.31 L196.05,54.71 L196.78,56.11 L197.52,57.49 L198.25,58.87 L198.99,60.25 L199.73,61.62 L200.46,62.98 L201.19,64.34 L201.93,65.69 L202.66,67.04 L203.40,68.38 L204.13,69.72 L204.87,71.05 L205.61,72.38 L206.34,73.69 L207.07,75.01 L207.81,76.32 L208.55,77.62 L209.28,78.92 L210.01,80.21 L210.75,81.50 L211.49,82.78 L212.22,84.05 L212.95,85.33 L213.69,86.59 L214.43,87.85 L215.16,89.11 L215.90,90.36 L216.63,91.60 L217.37,92.84 L218.10,94.07 L218.84,95.30 L219.57,96.53 L220.31,97.75 L221.04,98.96 L221.78,100.17 L222.51,101.37 L223.25,102.57 L223.98,103.77 L224.71,104.96 L225.45,106.14 L226.19,107.32 L226.92,108.49 L227.66,109.66 L228.39,110.83 L229.12,111.99 L229.86,113.14 L230.59,114.29 L231.33,115.44 L232.06,116.58 L232.80,117.71 L232.80,40.46 L233.53,41.19 L234.27,41.91 L235.00,42.64 L235.74,43.36 L236.48,44.08 L237.21,44.80 L237.94,45.52 L238.68,46.23 L239.41,46.95 L240.15,47.66 L240.88,48.37 L241.62,49.08 L242.36,49.79 L243.09,50.50 L243.83,51.20 L244.56,51.91 L245.29,52.61 L246.03,53.31 L246.76,54.01 L247.50,54.71 L248.24,55.41 L248.97,56.11 L249.71,56.80 L250.44,57.49 L251.18,58.18 L251.91,58.87 L252.65,59.56 L253.38,60.25 L254.12,60.94 L254.85,61.62 L255.59,62.30 L256.32,62.98 L257.06,63.66 L257.79,64.34 L258.52,65.02 L259.26,65.69 L260.00,66.37 L260.73,67.04 L261.47,67.71 L262.20,68.38 L262.94,69.05 L263.67,69.72 L264.40,70.39 L265.14,71.05 L265.88,71.71 L266.61,72.38 L267.35,73.04 L268.08,73.69 L268.81,74.35 L269.55,75.01 L270.28,75.66 L271.02,76.32 L271.75,76.97 L272.49,77.62 L273.23,78.27 L273.96,78.92 L274.70,79.56 L275.43,80.21 L276.17,80.85 L276.90,81.50 L276.90,40.46 L277.63,40.82 L278.37,41.19 L279.11,41.55 L279.84,41.91 L280.57,42.27 L281.31,42.64 L282.04,43.00 L282.78,43.36 L283.51,43.72 L284.25,44.08 L284.99,44.44 L285.72,44.80 L286.46,45.16 L287.19,45.52 L287.93,45.87 L288.66,46.23 L289.39,46.59 L290.13,46.95 L290.87,47.30 L291.60,47.66 L292.33,48.02 L293.07,48.37 L293.81,48.73 L294.54,49.08 L295.27,49.44 L296.01,49.79 L296.75,50.15 L297.48,50.50 L298.22,50.85 L298.95,51.20 L299.69,51.56 L300.42,51.91 L301.15,52.26 L301.89,52.61 L302.62,52.96 L303.36,53.31 L304.10,53.66 L304.83,54.01 L305.57,54.36 L306.30,54.71 L307.04,55.06 L307.77,55.41 L308.50,55.76 L309.24,56.11 L309.98,56.45 L310.71,56.80 L311.44,57.15 L312.18,57.49 L312.91,57.84 L313.65,58.18 L314.38,58.53 L315.12,58.87 L315.86,59.22 L316.59,59.56 L317.33,59.91 L318.06,60.25 L318.80,60.59 L319.53,60.94 L320.26,61.28 L321.00,61.62 L321.00,40.46 L321.74,40.64 L322.47,40.82 L323.21,41.01 L323.94,41.19 L324.67,41.37 L325.41,41.55 L326.14,41.73 L326.88,41.91 L327.62,42.09 L328.35,42.27 L329.09,42.46 L329.82,42.64 L330.56,42.82 L331.29,43.00 L332.02,43.18 L332.76,43.36 L333.50,43.54 L334.23,43.72 L334.97,43.90 L335.70,44.08 L336.44,44.26 L337.17,44.44 L337.91,44.62 L338.64,44.80 L339.38,44.98 L340.11,45.16 L340.85,45.34 L341.58,45.52 L342.31,45.70 L343.05,45.87 L343.78,46.05 L344.52,46.23 L345.25,46.41 L345.99,46.59 L346.73,46.77 L347.46,46.95 L348.20,47.13 L348.93,47.30 L349.67,47.48 L350.40,47.66 L351.13,47.84 L351.87,48.02 L352.61,48.19 L353.34,48.37 L354.08,48.55 L354.81,48.73 L355.55,48.91 L356.28,49.08 L357.01,49.26 L357.75,49.44 L358.49,49.61 L359.22,49.79 L359.95,49.97 L360.69,50.15 L361.43,50.32 L362.16,50.50 L362.90,50.68 L363.63,50.85 L364.37,51.03 L365.10,51.20 L365.10,40.46 L365.83,40.55 L366.57,40.64 L367.31,40.73 L368.04,40.82 L368.77,40.91 L369.51,41.01 L370.25,41.10 L370.98,41.19 L371.72,41.28 L372.45,41.37 L373.19,41.46 L373.92,41.55 L374.66,41.64 L375.39,41.73 L376.12,41.82 L376.86,41.91 L377.60,42.00 L378.33,42.09 L379.06,42.18 L379.80,42.27 L380.53,42.36 L381.27,42.46 L382.01,42.55 L382.74,42.64 L383.48,42.73 L384.21,42.82 L384.94,42.91 L385.68,43.00 L386.42,43.09 L387.15,43.18 L387.88,43.27 L388.62,43.36 L389.36,43.45 L390.09,43.54 L390.82,43.63 L391.56,43.72 L392.30,43.81 L393.03,43.90 L393.77,43.99 L394.50,44.08 L395.24,44.17 L395.97,44.26 L396.71,44.35 L397.44,44.44 L398.18,44.53 L398.91,44.62 L399.64,44.71 L400.38,44.80 L401.12,44.89 L401.85,44.98 L402.58,45.07 L403.32,45.16 L404.06,45.25 L404.79,45.34 L405.53,45.43 L406.26,45.52 L407.00,45.61 L407.73,45.70 L408.47,45.78 L409.20,45.87 L409.94,45.96 L410.67,46.05 L411.41,46.14 L412.14,46.23 L412.88,46.32 L413.61,46.41 L414.35,46.50 L415.08,46.59 L415.81,46.68 L416.55,46.77 L417.29,46.86 L418.02,46.95 L418.75,47.04 L419.49,47.13 L420.23,47.21 L420.96,47.30 L421.69,47.39 L422.43,47.48 L423.17,47.57 L423.90,47.66 L424.63,47.75 L425.37,47.84 L426.10,47.93 L426.84,48.02 L427.58,48.11 L428.31,48.19 L429.05,48.28 L429.78,48.37 L430.51,48.46 L431.25,48.55 L431.99,48.64 L432.72,48.73 L433.45,48.82 L434.19,48.91 L434.93,48.99 L435.66,49.08 L436.40,49.17 L437.13,49.26 L437.87,49.35 L438.60,49.44 L439.34,49.53 L440.07,49.61 L440.81,49.70 L441.54,49.79 L442.28,49.88 L443.01,49.97 L443.75,50.06 L444.48,50.15 L445.21,50.23 L445.95,50.32 L446.69,50.41 L447.42,50.50 L448.15,50.59 L448.89,50.68 L449.62,50.76 L450.36,50.85 L451.10,50.94 L451.83,51.03 L452.56,51.12 L453.30,51.20 L454.03,51.29 L454.77,51.38 L455.51,51.47 L456.24,51.56 L456.98,51.65 L457.71,51.73 L458.45,51.82 L459.18,51.91 L459.92,52.00 L460.65,52.09 L461.39,52.17 L462.12,52.26 L462.86,52.35 L463.59,52.44 L464.32,52.52 L465.06,52.61 L465.80,52.70 L466.53,52.79 L467.26,52.88 L468.00,52.96 L468.74,53.05 L469.47,53.14 L470.20,53.23 L470.94,53.31 L471.68,53.40 L472.41,53.49 L473.14,53.58 L473.88,53.66 L474.62,53.75 L475.35,53.84 L476.08,53.93 L476.82,54.01 L477.56,54.10 L478.29,54.19 L479.03,54.28 L479.76,54.36 L480.50,54.45 L481.23,54.54 L481.97,54.63 L482.70,54.71 L483.44,54.80 L484.17,54.89 L484.91,54.97 L485.64,55.06 L486.38,55.15 L487.11,55.24 L487.85,55.32 L488.58,55.41 L489.31,55.50 L490.05,55.58 L490.79,55.67 L491.52,55.76 L492.25,55.84 L492.99,55.93 L493.72,56.02 L494.46,56.11 L495.19,56.19 L495.93,56.28 L496.67,56.37 L497.40,56.45 L497.40,41.15 L498.14,41.20 L498.87,41.25 L499.61,41.30 L500.34,41.35 L501.08,41.40 L501.81,41.45 L502.55,41.50 L503.28,41.55 L504.02,41.60 L504.75,41.65 L505.49,41.70 L506.22,41.75 L506.96,41.80 L507.69,41.85 L508.43,41.90 L509.16,41.95 L509.89,42.00 L510.63,42.05 L511.37,42.10 L512.10,42.15 L512.84,42.20 L513.57,42.25 L514.31,42.30 L515.04,42.35 L515.77,42.40 L516.51,42.45 L517.25,42.50 L517.98,42.55 L518.71,42.60 L519.45,42.65 L520.19,42.70 L520.92,42.75 L521.65,42.80 L522.39,42.85 L523.12,42.90 L523.86,42.95 L524.60,43.00 L525.33,43.05 L526.07,43.10 L526.80,43.15 L527.54,43.20 L528.27,43.25 L529.00,43.30 L529.74,43.35 L530.48,43.40 L531.21,43.45 L531.94,43.50 L532.68,43.55 L533.41,43.60 L534.15,43.65 L534.88,43.70 L535.62,43.75 L536.36,43.80 L537.09,43.85 L537.83,43.90 L538.56,43.95 L539.29,44.00 L540.03,44.05 L540.76,44.10 L541.50,44.15" stroke="#00ff00" stroke-width="2.0" stroke-linejoin="bevel"/>
<path d="M232.80,40.46 L233.68,47.38 L234.56,54.15 L235.45,60.80 L236.33,67.31 L237.21,73.69 L238.09,79.95 L238.97,86.09 L239.86,92.10 L240.74,97.99 L241.62,103.77 L242.50,109.43 L243.38,114.98 L244.27,120.42 L245.15,125.75 L246.03,130.98 L246.91,136.10 L247.79,141.12 L248.68,146.04 L249.56,150.87 L250.44,155.60 L251.32,160.23 L252.20,164.78 L253.09,169.23 L253.97,173.60 L254.85,177.88 L255.73,182.07 L256.61,186.18 L257.50,190.21 L258.38,194.16 L259.26,198.03 L260.14,201.83 L261.02,205.55 L261.91,209.19 L262.79,212.77 L263.67,216.27 L264.55,219.71 L265.43,223.07 L266.32,226.37 L267.20,229.61 L268.08,232.78 L268.96,235.88 L269.84,238.93 L270.73,241.91 L271.61,244.84 L272.49,247.71 L273.37,250.52 L274.25,253.28 L275.14,255.98 L276.02,258.63 L276.90,261.22 L277.78,263.77 L278.66,266.26 L279.55,268.70 L280.43,271.10 L281.31,273.45 L282.19,275.75 L283.07,278.01 L283.96,280.22 L284.84,282.39 L285.72,284.51 L286.60,286.59 L287.48,288.64 L288.37,290.64 L289.25,292.60 L290.13,294.52 L291.01,296.41 L291.89,298.25 L292.78,300.06 L293.66,301.84 L294.54,303.58 L295.42,305.28 L296.30,306.96 L297.19,308.59 L298.07,310.20 L298.95,311.77 L299.83,313.32 L300.71,314.83 L301.60,316.31 L302.48,317.77 L303.36,319.19 L304.24,320.59 L305.12,321.95 L306.01,323.30 L306.89,324.61 L307.77,325.90 L308.65,327.16 L309.53,328.40 L310.42,329.62 L311.30,330.80 L312.18,331.97 L313.06,333.11 L313.94,334.23 L314.83,335.33 L315.71,336.41 L316.59,337.46 L317.47,338.50 L318.35,339.51 L319.24,340.51 L320.12,341.48 L321.00,342.44 L321.88,343.37 L322.76,344.29 L323.65,345.19 L324.53,346.07 L325.41,346.93 L326.29,347.78 L327.17,348.61 L328.06,349.42 L328.94,350.22 L329.82,351.00 L330.70,351.77 L331.58,352.52 L332.47,353.26 L333.35,353.98 L334.23,354.69 L335.11,355.38 L335.99,356.06 L336.88,356.72 L337.76,357.38 L338.64,358.02 L339.52,358.65 L340.40,359.26 L341.29,359.86 L342.17,360.45 L343.05,361.03 L343.93,361.60 L344.81,362.16 L345.70,362.70 L346.58,363.24 L347.46,363.76 L348.34,364.27 L349.22,364.78 L350.11,365.27 L350.99,365.76 L351.87,366.23 L352.75,366.69 L353.63,367.15 L354.52,367.60 L355.40,368.03 L356.28,368.46 L357.16,368.88 L358.04,369.30 L358.93,369.70 L359.81,370.10 L360.69,370.48 L361.57,370.86 L362.45,371.24 L363.34,371.60 L364.22,371.96 L365.10,372.31" stroke="#000000"/>
<path d="M365.10,40.46 L365.98,47.38 L366.86,54.15 L367.75,60.80 L368.63,67.31 L369.51,73.69 L370.39,79.95 L371.27,86.09 L372.16,92.10 L373.04,97.99 L373.92,103.77 L374.80,109.43 L375.68,114.98 L376.57,120.42 L377.45,125.75 L378.33,130.98 L379.21,136.10 L380.09,141.12 L380.98,146.04 L381.86,150.87 L382.74,155.60 L383.62,160.23 L384.50,164.78 L385.39,169.23 L386.27,173.60 L387.15,177.88 L388.03,182.07 L388.91,186.18 L389.80,190.21 L390.68,194.16 L391.56,198.03 L392.44,201.83 L393.32,205.55 L394.21,209.19 L395.09,212.77 L395.97,216.27 L396.85,219.71 L397.73,223.07 L398.62,226.37 L399.50,229.61 L400.38,232.78 L401.26,235.88 L402.14,238.93 L403.03,241.91 L403.91,244.84 L404.79,247.71 L405.67,250.52 L406.55,253.28 L407.44,255.98 L408.32,258.63 L409.20,261.22 L410.08,263.77 L410.96,266.26 L411.85,268.70 L412.73,271.10 L413.61,273.45 L414.49,275.75 L415.37,278.01 L416.26,280.22 L417.14,282.39 L418.02,284.51 L418.90,286.59 L419.78,288.64 L420.67,290.64 L421.55,292.60 L422.43,294.52 L423.31,296.41 L424.19,298.25 L425.08,300.06 L425.96,301.84 L426.84,303.58 L427.72,305.28 L428.60,306.96 L429.49,308.59 L430.37,310.20 L431.25,311.77 L432.13,313.32 L433.01,314.83 L433.90,316.31 L434.78,317.77 L435.66,319.19 L436.54,320.59 L437.42,321.95 L438.31,323.30 L439.19,324.61 L440.07,325.90 L440.95,327.16 L441.83,328.40 L442.72,329.62 L443.60,330.80 L444.48,331.97 L445.36,333.11 L446.24,334.23 L447.13,335.33 L448.01,336.41 L448.89,337.46 L449.77,338.50 L450.65,339.51 L451.54,340.51 L452.42,341.48 L453.30,342.44 L454.18,343.37 L455.06,344.29 L455.95,345.19 L456.83,346.07 L457.71,346.93 L458.59,347.78 L459.47,348.61 L460.36,349.42 L461.24,350.22 L462.12,351.00 L463.00,351.77 L463.88,352.52 L464.77,353.26 L465.65,353.98 L466.53,354.69 L467.41,355.38 L468.29,356.06 L469.18,356.72 L470.06,357.38 L470.94,358.02 L471.82,358.65 L472.70,359.26 L473.59,359.86 L474.47,360.45 L475.35,361.03 L476.23,361.60 L477.11,362.16 L478.00,362.70 L478.88,363.24 L479.76,363.76 L480.64,364.27 L481.52,364.78 L482.41,365.27 L483.29,365.76 L484.17,366.23 L485.05,366.69 L485.93,367.15 L486.82,367.60 L487.70,368.03 L488.58,368.46 L489.46,368.88 L490.34,369.30 L491.23,369.70 L492.11,370.10 L492.99,370.48 L493.87,370.86 L494.75,371.24 L495.64,371.60 L496.52,371.96 L497.40,372.31" stroke="#808080"/>
</g>
<g font-size="20px" style="filter:grayscale(1)">
<text x="144.60" y="411.3" text-anchor="middle">1</text>
<text x="188.70" y="411.3" text-anchor="middle">2</text>
<text x="232.80" y="411.3" text-anchor="middle">3</text>
<text x="276.90" y="411.3" text-anchor="middle">4</text>
<text x="321.00" y="411.3" text-anchor="middle">5</text>
<text x="365.10" y="411.3" text-anchor="middle">6</text>
<text x="409.20" y="411.3" text-anchor="middle">7</text>
<text x="453.30" y="411.3" text-anchor="middle">8</text>
<text x="497.40" y="411.3" text-anchor="middle">9</text>
<text x="541.50" y="411.3" text-anchor="middle">10</text>
<text x="92.6" y="396.70" text-anchor="end">0</text>
<text x="92.6" y="361.78" text-anchor="end">0.1</text>
<text x="92.6" y="326.85" text-anchor="end">0.2</text>
<text x="92.6" y="257.00" text-anchor="end">0.4</text>
<text x="92.6" y="187.16" text-anchor="end">0.6</text>
<text x="92.6" y="117.31" text-anchor="end">0.8</text>
<text x="92.6" y="47.46" text-anchor="end">1</text>
</g>
<g font-size="22px" style="filter:grayscale(1)">
<text x="241.68" y="442.3" textLength="15.71" lengthAdjust="spacingAndGlyphs">#</text>
<text x="265.60" y="442.3" textLength="74.28" lengthAdjust="spacingAndGlyphs">learning</text>
<text x="348.13" y="442.3" textLength="52.87" lengthAdjust="spacingAndGlyphs">cycles</text>
<text transform="translate(46.4,285.80) rotate(-90)" textLength="72.00" lengthAdjust="spacingAndGlyphs">Memory</text>
<text transform="translate(46.4,204.73) rotate(-90)" textLength="79.93" lengthAdjust="spacingAndGlyphs">strength</text>
</g>
</svg>
</body></html>
